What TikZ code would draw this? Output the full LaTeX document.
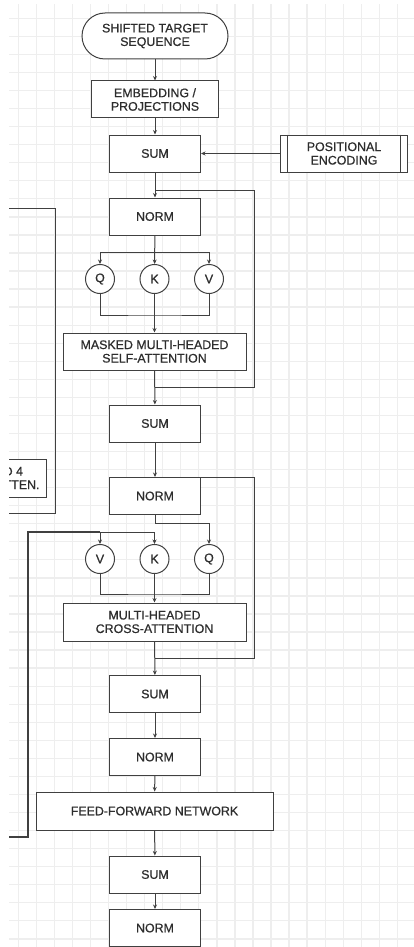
\documentclass[tikz,border=0pt]{standalone}
\usepackage{fontspec}
\setmainfont{Liberation Sans}
\newfontfamily\boxfont[FakeBold=0.6]{Liberation Sans}
\usetikzlibrary{arrows.meta,calc}
\definecolor{linegray}{RGB}{64,64,64}
\definecolor{textgray}{RGB}{45,45,45}
\definecolor{gridgray}{RGB}{238,238,238}

\begin{document}
\begin{tikzpicture}[
    x=1pt, y=-1pt,
    font=\boxfont\fontsize{12.4}{13.5}\selectfont,
    box/.style={rectangle, draw=linegray, line width=1pt, fill=white, text=textgray, minimum width=91pt, minimum height=37pt, inner sep=2pt, align=center},
    wide/.style={box, minimum width=183pt},
    term/.style={box, rounded corners=23pt, minimum width=146pt, minimum height=46pt},
    qkv/.style={circle, draw=linegray, line width=1pt, fill=white, text=textgray, minimum size=29pt, inner sep=0pt},
    conn/.style={draw=linegray, line width=1pt},
    arr/.style={conn, -{Stealth[length=4.5pt,width=4pt]}},
    gridline/.style={draw=gridgray, line width=1.3pt}
]
    \useasboundingbox (0,0) rectangle (414,947);
    \clip (9,5) rectangle (414,947);

    % ---- background grid ----
    \foreach \i in {0,...,22}
        \draw[gridline] (0.25+18.05*\i,0) -- (0.25+18.05*\i,947);
    \foreach \j in {0,...,52}
        \draw[gridline] (0,0.25+18.05*\j) -- (414,0.25+18.05*\j);

    % ---- input ----
    \node[term] (start) at (155,36) {SHIFTED TARGET\\SEQUENCE};
    \node[box, minimum width=127pt] (embed) at (155,99.5) {EMBEDDING /\\PROJECTIONS};
    \node[box] (sum1) at (155,153.5) {SUM};
    \node[box, minimum width=127pt] (posenc) at (344,153.5) {POSITIONAL\\ENCODING};
    \draw[conn] ([xshift=7pt]posenc.north west) -- ([xshift=7pt]posenc.south west);
    \draw[conn] ([xshift=-8pt]posenc.north east) -- ([xshift=-8pt]posenc.south east);
    \draw[arr] (start) -- (embed);
    \draw[arr] (embed) -- (sum1);
    \draw[arr] (posenc) -- (sum1);

    % ---- masked self-attention ----
    \node[box] (norm1) at (155,216.5) {NORM};
    \node[qkv] (q1) at (100,279) {Q};
    \node[qkv] (k1) at (154.5,279) {K};
    \node[qkv] (v1) at (209,279) {V};
    \node[wide] (msa) at (154.5,351.5) {MASKED MULTI-HEADED\\SELF-ATTENTION};
    \node[box] (sum2) at (155,423.5) {SUM};
    \coordinate (res1a) at (155,190);
    \coordinate (res1c) at (254,387);
    \coordinate (res1b) at (155,387);
    \coordinate (split1) at (155,252);
    \coordinate (merge1) at (155,315);
    \draw[arr] (sum1) -- (norm1);
    \draw[conn] (res1a) -| (res1c) -- (res1b);
    \draw[arr] (norm1) -- (k1);
    \draw[arr] (split1) -| (q1);
    \draw[arr] (split1) -| (v1);
    \draw[conn] (q1) |- (merge1) -| (v1);
    \draw[arr] (k1) -- (msa);
    \draw[arr] (msa) -- (sum2);

    % ---- encoder side (cut off) ----
    \node[box, minimum width=0pt, minimum height=38pt, inner xsep=7pt, align=left, anchor=east] (enc) at (47,478) {D 4\\TTEN.};
    \coordinate (enc1) at (9,208);
    \coordinate (enc2) at (55,513);
    \coordinate (enc3) at (9,513);
    \draw[conn] (enc1) -| (enc2) -- (enc3);

    % ---- cross-attention ----
    \node[box] (norm2) at (155,496) {NORM};
    \node[qkv] (v2) at (100,559) {V};
    \node[qkv] (k2) at (154.5,559) {K};
    \node[qkv] (q2) at (209,559) {Q};
    \node[wide, minimum height=38pt] (mca) at (154.5,622) {MULTI-HEADED\\CROSS-ATTENTION};
    \node[box] (sum3) at (155,694) {SUM};
    \coordinate (res2c) at (254,658);
    \coordinate (res2b) at (155,658);
    \coordinate (split2) at (155,523);
    \coordinate (merge2) at (155,594);
    \coordinate (mem1) at (9,837);
    \coordinate (mem2) at (28,532);
    \coordinate (mem3) at (100,532);
    \draw[arr] (sum2) -- (norm2);
    \draw[conn] (norm2.north east) -| (res2c) -- (res2b);
    \draw[arr] (norm2) |- (split2) -| (q2);
    \draw[conn, line width=1.8pt] (mem1) -| (mem2) -- (mem3);
    \draw[arr] (mem3) -- (v2);
    \draw[arr] (mem3) -| (k2);
    \draw[conn] (v2) |- (merge2) -| (q2);
    \draw[arr] (k2) -- (mca);
    \draw[arr] (mca) -- (sum3);

    % ---- feed-forward ----
    \node[box] (norm3) at (155,757) {NORM};
    \node[box, minimum width=237pt, minimum height=38pt] (ffn) at (154.5,811) {FEED-FORWARD NETWORK};
    \node[box] (sum4) at (155,874.5) {SUM};
    \node[box] (norm4) at (155,928) {NORM};
    \draw[arr] (sum3) -- (norm3);
    \draw[arr] (norm3) -- (ffn);
    \draw[arr] (ffn) -- (sum4);
    \draw[arr] (sum4) -- (norm4);
\end{tikzpicture}
\end{document}
